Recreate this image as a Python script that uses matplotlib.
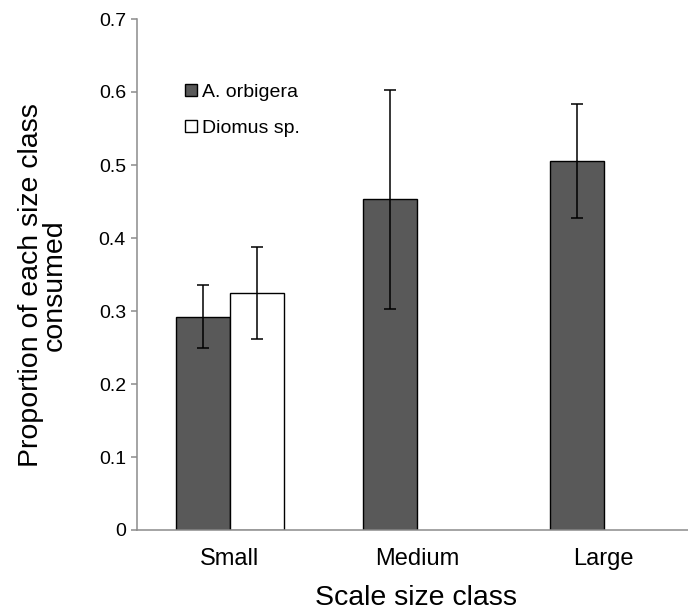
import numpy as np
import matplotlib
matplotlib.use('Agg')
import matplotlib.pyplot as plt

plt.rcParams['font.family'] = ['Liberation Sans', 'DejaVu Sans']

categories = ['Small', 'Medium', 'Large']
orbigera_mean = [0.292, 0.453, 0.506]
orbigera_err = [0.043, 0.150, 0.078]
diomus_mean = [0.324, np.nan, np.nan]
diomus_err = [0.063, np.nan, np.nan]
series_labels = ['A. orbigera', 'Diomus sp.']

fig = plt.figure(figsize=(6.88, 6.13), dpi=100)
ax = fig.add_axes([137 / 688, 1 - 530 / 613, 1 - 137 / 688, (530 - 19) / 613])

x = np.arange(len(categories))
width = 0.29
err_kw = dict(ecolor='black', elinewidth=1.1, capsize=4, capthick=1.1)

ax.bar(x - width / 2, orbigera_mean, width, yerr=orbigera_err, color='#595959',
       edgecolor='black', linewidth=1.0, label=series_labels[0], error_kw=err_kw, zorder=2)
ax.bar(x + width / 2, diomus_mean, width, yerr=diomus_err, color='white',
       edgecolor='black', linewidth=1.0, label=series_labels[1], error_kw=err_kw, zorder=2)

ax.set_xlim(-0.497, 2.45)
ax.set_ylim(0, 0.7)
ax.set_yticks(np.arange(0, 0.71, 0.1))
ax.set_yticklabels(['0', '0.1', '0.2', '0.3', '0.4', '0.5', '0.6', '0.7'])
ax.set_xticks(x)
ax.set_xticklabels(categories)

for side in ['top', 'right']:
    ax.spines[side].set_visible(False)
for side in ['left', 'bottom']:
    ax.spines[side].set_color('#8c8c8c')
    ax.spines[side].set_linewidth(1.1)

ax.tick_params(axis='y', length=4, width=1.1, color='#8c8c8c', labelsize=14, pad=4)
ax.tick_params(axis='x', length=0, labelsize=17, pad=13)

ax.set_xlabel('Scale size class', fontsize=20.5)
ax.xaxis.set_label_coords((416 - 137) / (688 - 137), -(598 - 530) / 511)
ax.xaxis.label.set_verticalalignment('center')
ax.set_ylabel('Proportion of each size class\nconsumed', fontsize=20.5, linespacing=0.9)
ax.yaxis.set_label_coords(-(137 - 43) / (688 - 137), (530 - 285) / 511)
ax.yaxis.label.set_verticalalignment('center')

ax.legend(loc='upper left', bbox_to_anchor=(185 / 688, 1 - 84 / 613),
          bbox_transform=fig.transFigure, frameon=False, fontsize=14,
          handlelength=0.6, handleheight=0.6, handletextpad=0.25,
          labelspacing=0.97, borderpad=0, borderaxespad=0)

fig.savefig('out.png', dpi=100)
